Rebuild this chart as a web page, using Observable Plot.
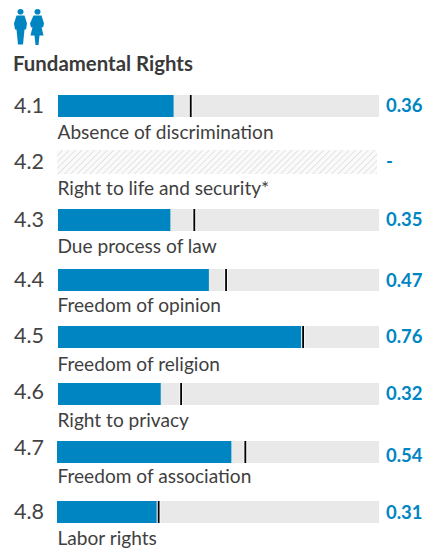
<!DOCTYPE html>
<html>
<head>
<meta charset="utf-8">
<script src="https://cdn.jsdelivr.net/npm/d3@7"></script>
<script src="https://cdn.jsdelivr.net/npm/@observablehq/plot@0.6"></script>
<style>
html,body{margin:0;padding:0;background:#fff;}
body{width:432px;height:556px;overflow:hidden;font-family:Lato,sans-serif;}
#head{height:85px;position:relative;}
#head svg{position:absolute;left:14px;top:9px;}
#head div{position:absolute;left:13px;top:51px;font:bold 20.400px/24px Lato,sans-serif;color:#3a3a3a;}
#chart svg{display:block;}
</style>
</head>
<body>
<div id="head">
<svg width="30" height="36" viewBox="0 0 30 36" fill="#0085c3">
<ellipse cx="6.500" cy="2.800" rx="3" ry="2.800"/>
<path d="M2.500 6.500h8l2.500 8-1 6h-1.500l-1.500 15h-5l-1.500-15h-1.500l-1-6z"/>
<ellipse cx="23.500" cy="2.800" rx="3" ry="2.800"/>
<path d="M19.500 6.500h8l2.500 8-1 4-1.500-.5 2 8.500h-4l-1 9.500h-3l-1-9.500h-4l2-8.500-1.500.5-1-4z"/>
</svg>
<div>Fundamental Rights</div>
</div>
<div id="chart"></div>
<script>
const codes = ["4.1","4.2","4.3","4.4","4.5","4.6","4.7","4.8"];
const names = ["Absence of discrimination","Right to life and security*","Due process of law","Freedom of opinion","Freedom of religion","Right to privacy","Freedom of association","Labor rights"];
const scores = [0.36,null,0.35,0.47,0.76,0.32,0.54,0.31];
const benchmarks = [0.412,null,0.423,0.522,0.762,0.382,0.582,0.312];

const rows = codes.map((code,i)=>({code,row:+code,name:names[i],score:scores[i],mark:benchmarks[i],label:scores[i]===null?"-":scores[i].toFixed(2)}));
const scored = rows.filter(d=>d.score!==null);
const early = scored.filter(d=>d.row<4.7);
const late = scored.filter(d=>d.row>=4.7);
const missing = rows.filter(d=>d.score===null);

// the reference nudges its labels by a pixel or so, row by row
const codeNudge = [-0.5,-0.5,-0.5,-0.5,-1.5,-2.5,-4.5,-0.5];
const nameNudge = [26.5,26,26,25,27,26,24.5,26];
const valueNudge = [0,0,0,1,0,0,3.5,1];
const rowTexts = (nudge,options) => rows.map((d,i)=>Plot.text([d],{...options,y:"row",dy:nudge[i]}));

const hatchDefs = () => {
  const ns="http://www.w3.org/2000/svg";
  const defs=document.createElementNS(ns,"defs");
  defs.innerHTML='<pattern id="hatch" width="4.500" height="4.500" patternUnits="userSpaceOnUse" patternTransform="rotate(45)"><rect width="4.500" height="4.500" fill="#fafafa"/><line x1="0" y1="0" x2="0" y2="4.500" stroke="#dedede" stroke-width="1.600"/></pattern>';
  return defs;
};
const barY = {y1:"row",y2:"row",insetTop:-11,insetBottom:-11};
const plot = Plot.plot({
  width:432,height:471,
  marginLeft:0,marginRight:0,marginTop:0,marginBottom:0,
  style:{fontFamily:"Lato, sans-serif",background:"#fff"},
  x:{domain:[0,1],range:[58,379],axis:null},
  y:{type:"linear",axis:null,
     domain:codes.map(Number),
     range:[21,77,135,195,252,309,367,427]},
  marks:[
    hatchDefs,
    Plot.rect(early,{x1:0,x2:1,...barY,fill:"#e9e9e9"}),
    Plot.rect(late,{x1:0,x2:1,...barY,insetLeft:-1,fill:"#e9e9e9"}),
    Plot.rect(missing,{x1:0,x2:1,y1:"row",y2:"row",insetTop:-12,insetBottom:-12,insetLeft:-1,insetRight:2,fill:"url(#hatch)"}),
    Plot.rect(early,{x1:0,x2:"score",...barY,fill:"#0085c3"}),
    Plot.rect(late,{x1:0,x2:"score",...barY,insetLeft:-1,fill:"#0085c3"}),
    Plot.ruleX(scored,{x:"mark",y1:"row",y2:"row",insetTop:-11,insetBottom:-11,stroke:"#f6f6f6",strokeWidth:4}),
    Plot.ruleX(scored,{x:"mark",y1:"row",y2:"row",insetTop:-11,insetBottom:-11,stroke:"#000",strokeWidth:1.8}),
    ...rowTexts(codeNudge,{x:0,text:"code",dx:-44.5,textAnchor:"start",fontSize:21.5,fill:"#444"}),
    ...rowTexts(nameNudge,{x:0,text:"name",dx:-1,textAnchor:"start",fontSize:19.100,fill:"#3f3f3f"}),
    ...rowTexts(valueNudge,{x:1,text:"label",dx:6.500,textAnchor:"start",fontSize:18.500,fontWeight:700,fill:"#0085c3"})
  ]
});
document.getElementById("chart").appendChild(plot);
</script>
</body>
</html>
